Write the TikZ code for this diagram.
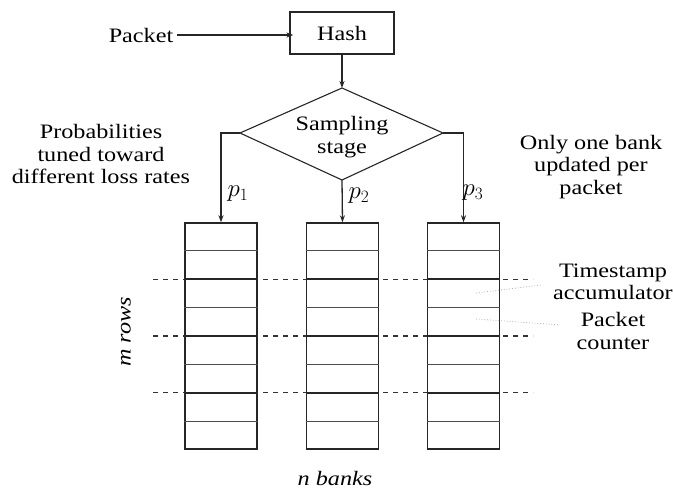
\documentclass[tikz,border=0pt]{standalone}
\usepackage{fontspec}
\setmainfont{Liberation Serif}[FakeStretch=1.18]
\usetikzlibrary{arrows.meta,calc}
\begin{document}
\begin{tikzpicture}[x=1pt,y=-1pt,
  txt/.style={font=\fontsize{20.5}{22.5}\selectfont, inner sep=0pt, align=center, text=black},
  plab/.style={font=\fontsize{25}{25}\selectfont, inner sep=0pt, text=black},
  ln/.style={draw=black!85, line width=1.3pt},
  arr/.style={ln, -{Stealth[length=7pt,width=5pt]}},
  bankbox/.style={draw=black!85, fill=white, line width=1.4pt, minimum width=72pt, minimum height=226pt, inner sep=0pt},
  rowline/.style={draw=black!70, line width=0.9pt},
  sepline/.style={draw=black!85, line width=1.6pt},
  dashline/.style={draw=black!80, line width=1.6pt, dash pattern=on 5pt off 5pt},
  leader/.style={draw=black!30, line width=0.8pt, dotted}
]
\useasboundingbox (0,0) rectangle (673,490);

% top: packet and hash
\node[txt, draw=black!85, line width=1.3pt, minimum width=104pt, minimum height=42pt] (hash) at (342,33) {Hash};
\node[txt] (packet) at (141,35) {Packet};
\draw[arr] ([xshift=4pt]packet.east) -- ([xshift=4pt]packet.east -| hash.west);

% sampling diamond
\coordinate (dtop) at (342,88);
\coordinate (dright) at (443,133);
\coordinate (dbot) at (342,180);
\coordinate (dleft) at (240,133);
\draw[ln, line width=1.1pt] (dtop) -- (dright) -- (dbot) -- (dleft) -- cycle;
\node[txt] (samp) at (342,137) {Sampling\\stage};
\draw[arr] (hash.south) -- (dtop);

% dashed separators
\foreach \y/\n in {279.5/1,336/2,392.5/3}{
  \coordinate (dl\n) at (153,\y);
  \coordinate (dr\n) at (533,\y);
  \draw[dashline] (dl\n) -- (dr\n);
}

% banks
\node[bankbox] (bank1) at (221,336) {};
\node[bankbox] (bank2) at (342.5,336) {};
\node[bankbox] (bank3) at (463.5,336) {};
\foreach \b in {bank1,bank2,bank3}{
  \foreach \i in {1,3,5,7}{
    \draw[rowline] ($(\b.north west)!\i/8!(\b.south west)$) -- ($(\b.north east)!\i/8!(\b.south east)$);
  }
  \foreach \i in {2,4,6}{
    \draw[sepline] ($(\b.north west)!\i/8!(\b.south west)$) -- ($(\b.north east)!\i/8!(\b.south east)$);
  }
}

% arrows to banks
\draw[arr] (dleft) -- (dleft -| bank1.north) -- (bank1.north);
\draw[arr] (dbot) -- (bank2.north);
\draw[arr] (dright) -- (dright -| bank3.north) -- (bank3.north);

\node[plab] (p1) at (238,194) {$p_1$};
\node[plab] (p2) at (359,196) {$p_2$};
\node[plab] (p3) at (473,193) {$p_3$};

% side labels
\node[txt] (prob) at (101,154) {Probabilities\\tuned toward\\different loss rates};
\node[txt] (only) at (591,167) {Only one bank\\updated per\\packet};
\node[txt] (ts) at (613,282) {Timestamp\\accumulator};
\node[txt] (pc) at (613,331) {Packet\\counter};

% leaders
\coordinate (l1s) at (476,293);
\coordinate (l1e) at (541,285);
\coordinate (l2s) at (476,319);
\coordinate (l2e) at (560,325);
\draw[leader] (l1s) -- (l1e);
\draw[leader] (l2s) -- (l2e);

% axis labels
\node[txt, rotate=90] (mrows) at (126,332) {\itshape m rows};
\node[txt] (nbanks) at (335,478) {\itshape n banks};
\end{tikzpicture}
\end{document}
